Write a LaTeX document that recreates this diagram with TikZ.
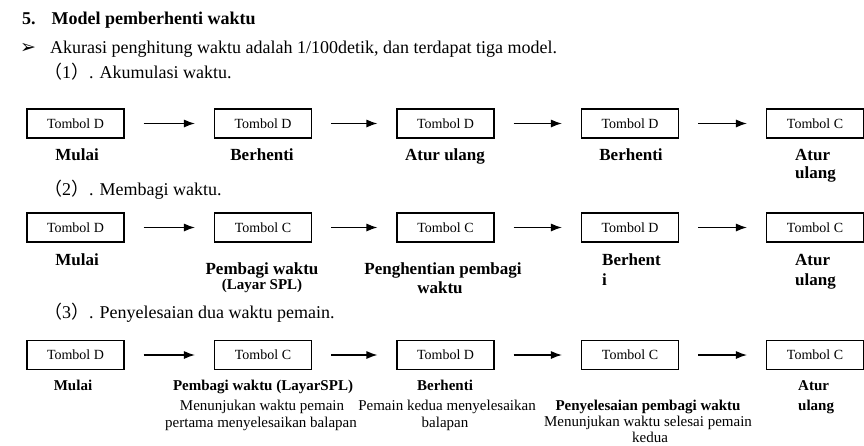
\documentclass[tikz,border=0pt]{standalone}
\usepackage{fontspec}
\setmainfont{Liberation Serif}
\newfontfamily\cjk{Noto Sans CJK SC}
\newfontfamily\dejavub{DejaVu Sans Bold}
\usetikzlibrary{arrows.meta}
\tikzset{
  box/.style={draw, line width=1.1pt, minimum width=97pt, minimum height=29pt, inner sep=0pt, font=\fontsize{14}{16}\selectfont},
  arr/.style={-{Latex[length=11pt,width=8pt]}, line width=1.2pt, shorten <=19pt, shorten >=19pt},
  txt/.style={inner sep=0pt, anchor=base},
  txtw/.style={inner sep=0pt, anchor=base west},
  blab/.style={txt, font=\bfseries\fontsize{17}{19}\selectfont},
  blabw/.style={txtw, font=\bfseries\fontsize{17}{19}\selectfont},
  sblab/.style={txt, font=\bfseries\fontsize{15}{17}\selectfont},
  sblabw/.style={txtw, font=\bfseries\fontsize{15}{17}\selectfont},
  slab/.style={txt, font=\fontsize{15}{17}\selectfont},
  body/.style={txtw, font=\fontsize{18}{20}\selectfont}
}
\begin{document}
\begin{tikzpicture}[x=1pt, y=-1pt]
\useasboundingbox[fill=white] (0,0) rectangle (864,445);

% header
\node[txtw, font=\bfseries\fontsize{18}{20}\selectfont] (title) at (22,24) {5.\hskip 16pt Model pemberhenti waktu};
\node[txtw, font=\dejavub\fontsize{19}{21}\selectfont] (bullet) at (20,53) {➢};
\node[body] (intro) at (50,53) {Akurasi penghitung waktu adalah 1/100detik, dan terdapat tiga model.};
\node[body] (h1) at (44,78) {{\cjk （}1{\cjk ）}. Akumulasi waktu.};
\node[body] (h2) at (44,195) {{\cjk （}2{\cjk ）}. Membagi waktu.};
\node[body] (h3) at (44,318) {{\cjk （}3{\cjk ）}. Penyelesaian dua waktu pemain.};

% row 1
\node[box] (a1) at (75.5,123.5) {Tombol D};
\node[box] (a2) at (263,123.5) {Tombol D};
\node[box] (a3) at (445.5,123.5) {Tombol D};
\node[box] (a4) at (630,123.5) {Tombol D};
\node[box] (a5) at (815,123.5) {Tombol C};
\draw[arr] (a1) -- (a2);
\draw[arr] (a2) -- (a3);
\draw[arr] (a3) -- (a4);
\draw[arr] (a4) -- (a5);
\node[blab] (la1) at (77,160) {Mulai};
\node[blab] (la2) at (262,160) {Berhenti};
\node[blab] (la3) at (445,160) {Atur ulang};
\node[blab] (la4) at (631,160) {Berhenti};
\node[blabw] (la5) at (795,160) {Atur};
\node[blabw] (la5b) at (795,178) {ulang};

% row 2
\node[box] (b1) at (75.5,227.5) {Tombol D};
\node[box] (b2) at (263,227.5) {Tombol C};
\node[box] (b3) at (445.5,227.5) {Tombol C};
\node[box] (b4) at (630,227.5) {Tombol D};
\node[box] (b5) at (815,227.5) {Tombol C};
\draw[arr] (b1) -- (b2);
\draw[arr] (b2) -- (b3);
\draw[arr] (b3) -- (b4);
\draw[arr] (b4) -- (b5);
\node[blab] (lb1) at (77,265) {Mulai};
\node[blab] (lb2) at (262,274) {Pembagi waktu};
\node[sblab] (lb2b) at (262,289) {(Layar SPL)};
\node[blab] (lb3) at (443,274) {Penghentian pembagi};
\node[blab] (lb3b) at (440,293) {waktu};
\node[blabw] (lb4) at (602,265) {Berhent};
\node[blabw] (lb4b) at (602,285) {i};
\node[blabw] (lb5) at (795,265) {Atur};
\node[blabw] (lb5b) at (795,285) {ulang};

% row 3
\node[box] (c1) at (75.5,355) {Tombol D};
\node[box] (c2) at (263,355) {Tombol C};
\node[box] (c3) at (445.5,355) {Tombol D};
\node[box] (c4) at (630,355) {Tombol C};
\node[box] (c5) at (815,355) {Tombol C};
\draw[arr] (c1) -- (c2);
\draw[arr] (c2) -- (c3);
\draw[arr] (c3) -- (c4);
\draw[arr] (c4) -- (c5);
\node[sblab] (lc1) at (73,390) {Mulai};
\node[sblab] (lc2) at (263,390) {Pembagi waktu (LayarSPL)};
\node[slab] (lc2b) at (262,410) {Menunjukan waktu pemain};
\node[slab] (lc2c) at (261,427) {pertama menyelesaikan balapan};
\node[sblab] (lc3) at (445,390) {Berhenti};
\node[slab] (lc3b) at (447,410) {Pemain kedua menyelesaikan};
\node[slab] (lc3c) at (445,427) {balapan};
\node[sblab] (lc4) at (648,410) {Penyelesaian pembagi waktu};
\node[slab] (lc4b) at (648,426) {Menunjukan waktu selesai pemain};
\node[slab] (lc4c) at (650,442) {kedua};
\node[sblabw] (lc5) at (798,390) {Atur};
\node[sblabw] (lc5b) at (798,410) {ulang};
\end{tikzpicture}
\end{document}
